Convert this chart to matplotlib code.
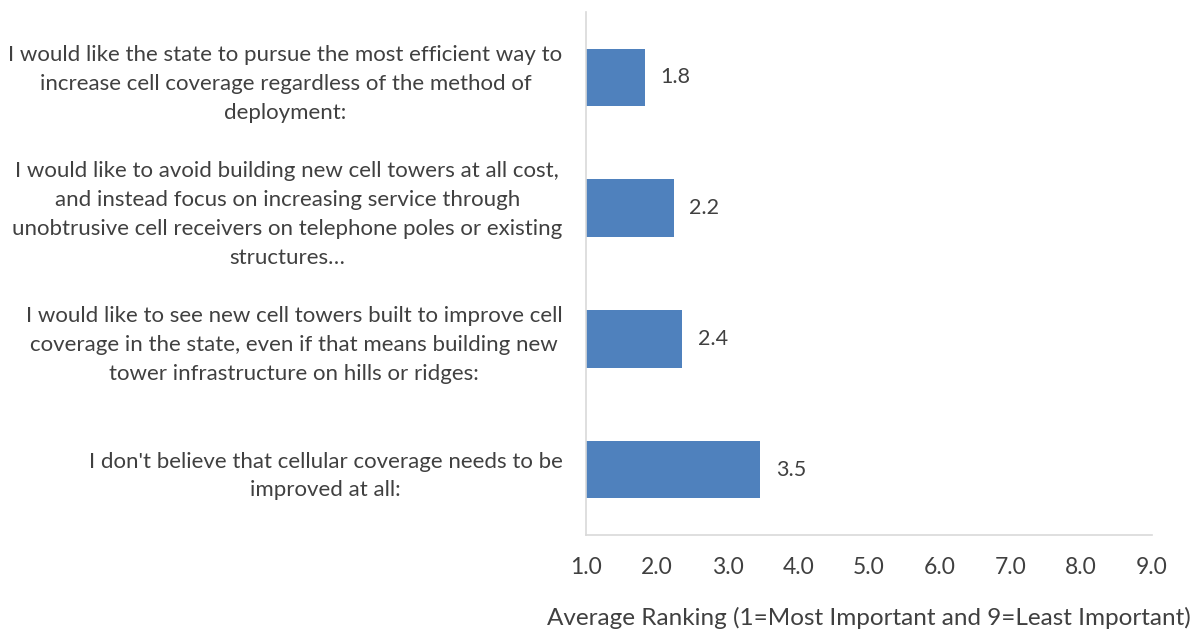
import matplotlib
matplotlib.use("Agg")
import matplotlib.pyplot as plt

categories = [
    "I would like the state to pursue the most efficient way to\nincrease cell coverage regardless of the method of\ndeployment:",
    "I would like to avoid building new cell towers at all cost,\nand instead focus on increasing service through\nunobtrusive cell receivers on telephone poles or existing\nstructures…",
    "I would like to see new cell towers built to improve cell\ncoverage in the state, even if that means building new\ntower infrastructure on hills or ridges:",
    "I don't believe that cellular coverage needs to be\nimproved at all:",
]
values = [1.83, 2.24, 2.36, 3.46]
xticks = [1, 2, 3, 4, 5, 6, 7, 8, 9]
xlabel = "Average Ranking (1=Most Important and 9=Least Important)"

plt.rcParams['font.family'] = ['Lato', 'DejaVu Sans']
txt = '#404040'
bar_color = '#4f81bd'

fig = plt.figure(figsize=(11.94, 6.34), dpi=100)
ax = fig.add_axes([586/1194, 1-535/634, (1152-586)/1194, (535-12)/634])

ypos = list(range(len(categories)))
ax.barh(ypos, [v - 1 for v in values], left=1, height=0.44, color=bar_color)
for y, v in zip(ypos, values):
    ax.text(v + 0.22, y, f"{v:.1f}", va='center', ha='left', fontsize=15.5, color=txt)

ax.set_xlim(1, 9)
ax.set_ylim(len(categories) - 0.5, -0.5)
ax.set_yticks(ypos)
ax.set_yticklabels(categories, fontsize=16, color=txt)
for lab in ax.get_yticklabels():
    lab.set_multialignment('center')
    lab.set_linespacing(1.55)
ax.set_xticks(xticks)
ax.set_xticklabels([f"{t:.1f}" for t in xticks], fontsize=16.5, color=txt)
ax.tick_params(axis='both', length=0)
ax.tick_params(axis='x', pad=16)
ax.tick_params(axis='y', pad=17)
ax.set_xlabel(xlabel, fontsize=17.5, color=txt, labelpad=21)

for s in ['top', 'right']:
    ax.spines[s].set_visible(False)
for s in ['left', 'bottom']:
    ax.spines[s].set_color('#d9d9d9')
    ax.spines[s].set_linewidth(1.2)

fig.savefig('out.png', dpi=100)
